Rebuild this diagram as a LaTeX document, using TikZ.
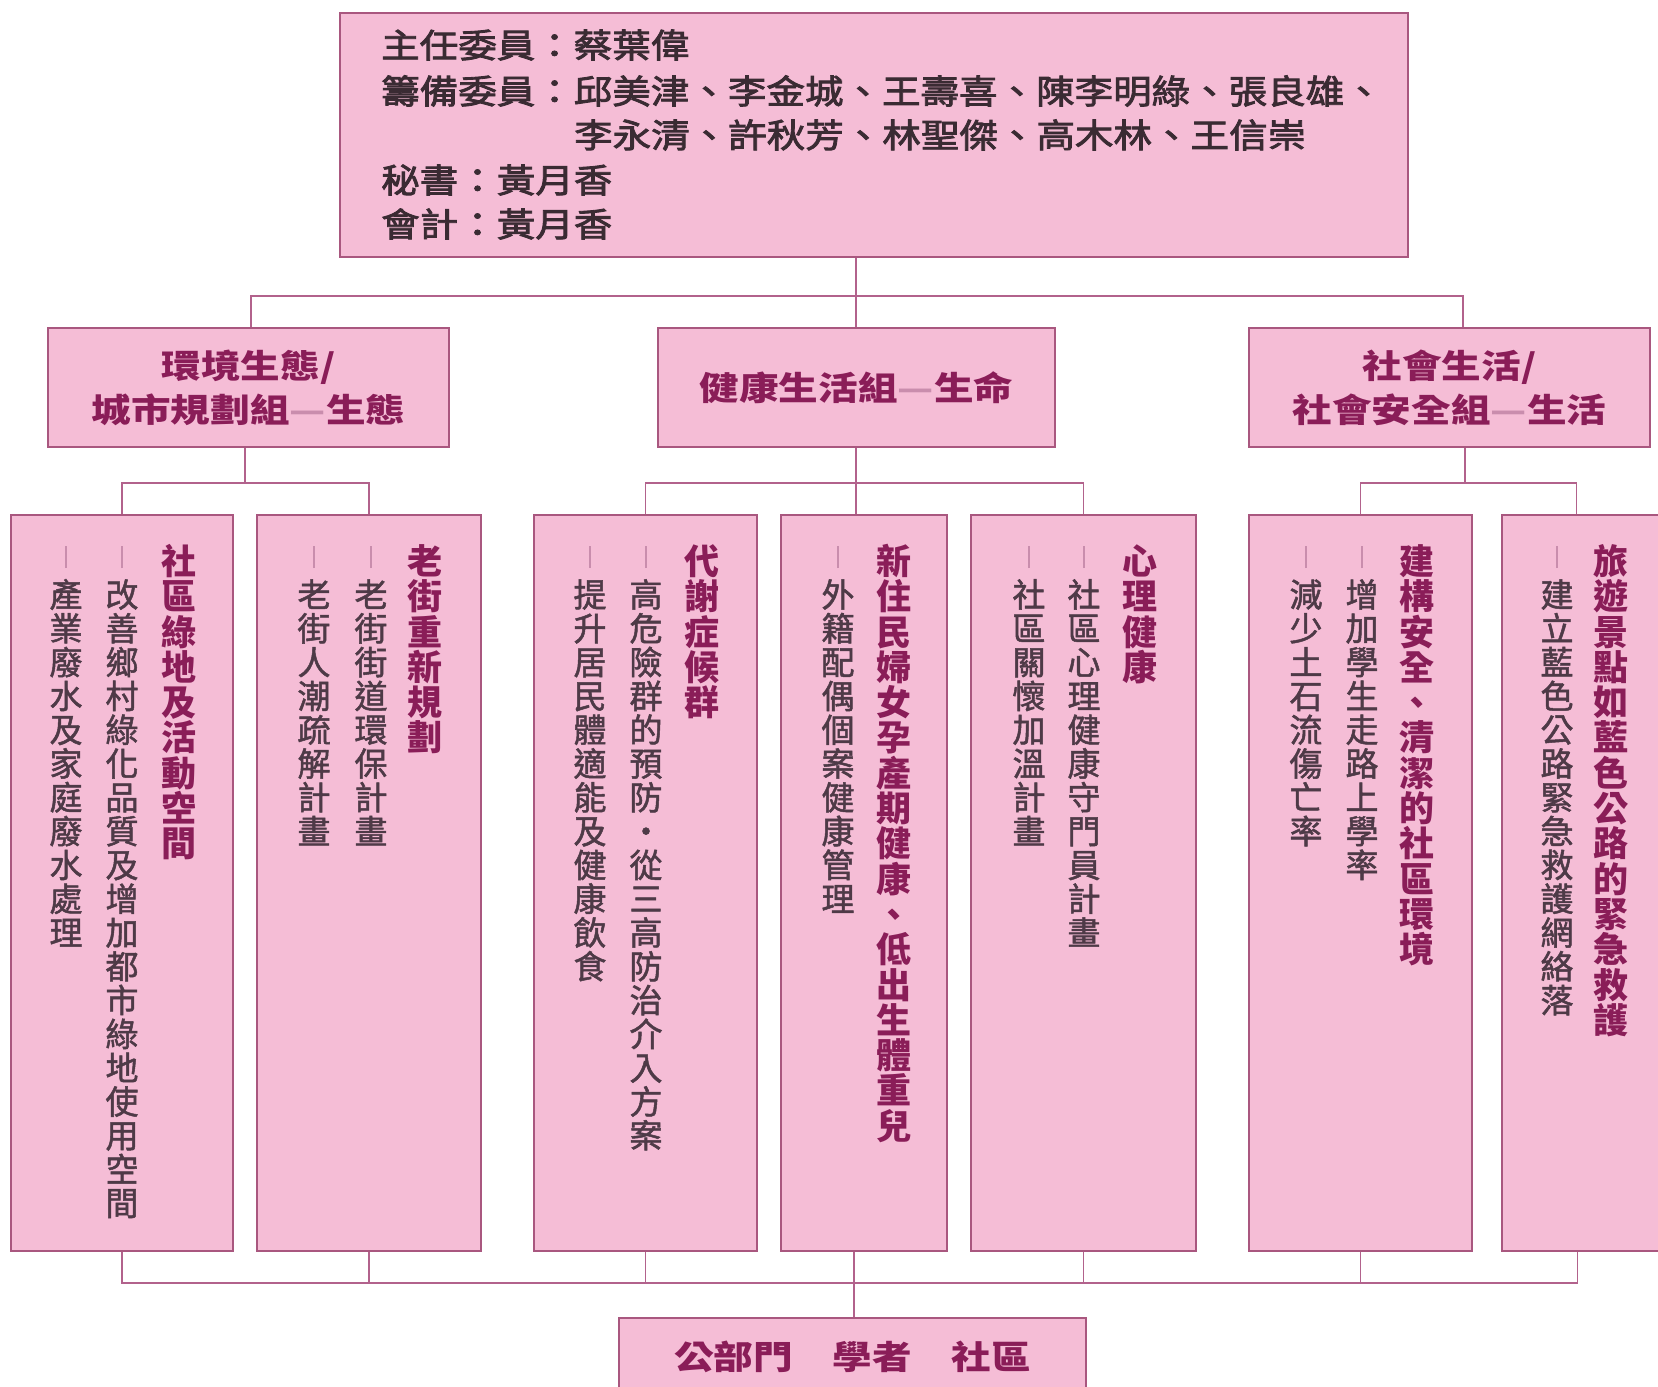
\documentclass[tikz,border=0pt]{standalone}
\usepackage{fontspec}
\setmainfont{Noto Sans CJK TC}
\newfontfamily\topfont[FakeStretch=1.15,FakeBold=2.5]{Noto Sans CJK TC}
\newfontfamily\grpfont[FakeStretch=1.2]{Noto Sans CJK TC}
\newfontfamily\colfont{Noto Sans CJK TC}
\newfontfamily\itemfont[FakeBold=1.5]{Noto Sans CJK TC}
\definecolor{boxfill}{HTML}{F5BDD6}
\definecolor{boxline}{HTML}{A9577F}
\definecolor{connc}{HTML}{B2628C}
\definecolor{titlec}{HTML}{8A1D58}
\definecolor{itemc}{HTML}{4E3A47}
\definecolor{topc}{HTML}{3A2B33}
\definecolor{dashc}{HTML}{C98DAD}
\newdimen\vpitch
\def\vcolEnd{}
\def\vcharsA#1{\ifx#1\vcolEnd\else\vslot{#1}\expandafter\vcharsA\fi}
\def\vslot#1{\hbox to 1.2em{\hss\vrule width 0pt height .8\vpitch depth .2\vpitch\relax\smash{#1}\hss}}
\def\dslot{\hbox to 1.2em{\hss\vrule width 0pt height .8\vpitch depth .2\vpitch\relax{\color{dashc}\vrule width 1.3pt height .8\vpitch depth -.15\vpitch}\hss}}
\newcommand\vtitle[1]{\vpitch=35.3pt\relax\vbox{\offinterlineskip\vcharsA#1\vcolEnd}}
\newcommand\vitem[1]{\vpitch=33.8pt\relax\vbox{\offinterlineskip\dslot\vcharsA#1\vcolEnd}}
\tikzset{
  box/.style={draw=boxline, fill=boxfill, line width=1.5pt, inner sep=0pt},
  conn/.style={draw=connc, line width=1.4pt},
  topline/.style={anchor=west, inner sep=0pt, text=topc, font={\topfont\fontsize{33.5pt}{40pt}\selectfont}},
  grptext/.style={align=center, text=titlec, font={\grpfont\bfseries\fontsize{33pt}{44pt}\selectfont}},
  coltitle/.style={anchor=north, inner sep=0pt, text=titlec, font={\colfont\bfseries\fontsize{35pt}{35pt}\selectfont}},
  colitem/.style={anchor=north, inner sep=0pt, text=itemc, font={\itemfont\fontsize{33pt}{34pt}\selectfont}}
}
\begin{document}
\begin{tikzpicture}[x=1pt,y=-1pt]
\fill[white] (0,0) rectangle (1658,1387);
\useasboundingbox (0,0) rectangle (1658,1387);

% top box
\node[box, minimum width=1068pt, minimum height=244pt] (top) at (874,135) {};
\node[topline] (tl1) at (381,45) {主任委員：蔡葉偉};
\node[topline] (tl2) at (381,91) {籌備委員：邱美津、李金城、王壽喜、陳李明綠、張良雄、};
\node[topline] (tl3) at (574,135) {李永清、許秋芳、林聖傑、高木林、王信崇};
\node[topline] (tl4) at (381,180) {秘書：黃月香};
\node[topline] (tl5) at (381,224) {會計：黃月香};

% group boxes
\node[box, grptext, minimum width=401pt, minimum height=119pt] (g1) at (248.5,387.5) {環境生態/\\城市規劃組{\color{dashc}—}生態};
\node[box, grptext, minimum width=397pt, minimum height=119pt] (g2) at (856.5,387.5) {健康生活組{\color{dashc}—}生命};
\node[box, grptext, minimum width=401pt, minimum height=119pt] (g3) at (1449.5,387.5) {社會生活/\\社會安全組{\color{dashc}—}生活};

% project boxes
\node[box, minimum width=222pt, minimum height=736pt] (b1) at (122,883) {};
\node[box, minimum width=224pt, minimum height=736pt] (b2) at (369,883) {};
\node[box, minimum width=223pt, minimum height=736pt] (b3) at (645.5,883) {};
\node[box, minimum width=166pt, minimum height=736pt] (b4) at (864,883) {};
\node[box, minimum width=225pt, minimum height=736pt] (b5) at (1083.5,883) {};
\node[box, minimum width=223pt, minimum height=736pt] (b6) at (1360.5,883) {};
\node[box, minimum width=223pt, minimum height=736pt] (b7) at (1613.5,883) {};

% columns
\node[coltitle] (t1) at (179,546) {\vtitle{社區綠地及活動空間}};
\node[colitem] (i1a) at (122,546) {\vitem{改善鄉村綠化品質及增加都市綠地使用空間}};
\node[colitem] (i1b) at (66,546) {\vitem{產業廢水及家庭廢水處理}};

\node[coltitle] (t2) at (425,546) {\vtitle{老街重新規劃}};
\node[colitem] (i2a) at (371,546) {\vitem{老街街道環保計畫}};
\node[colitem] (i2b) at (314,546) {\vitem{老街人潮疏解計畫}};

\node[coltitle] (t3) at (702,546) {\vtitle{代謝症候群}};
\node[colitem] (i3a) at (646,546) {\vitem{高危險群的預防・從三高防治介入方案}};
\node[colitem] (i3b) at (590,546) {\vitem{提升居民體適能及健康飲食}};

\node[coltitle] (t4) at (894,546) {\vtitle{新住民婦女孕產期健康、低出生體重兒}};
\node[colitem] (i4a) at (838,546) {\vitem{外籍配偶個案健康管理}};

\node[coltitle] (t5) at (1140,546) {\vtitle{心理健康}};
\node[colitem] (i5a) at (1084,546) {\vitem{社區心理健康守門員計畫}};
\node[colitem] (i5b) at (1029,546) {\vitem{社區關懷加溫計畫}};

\node[coltitle] (t6) at (1417,546) {\vtitle{建構安全、清潔的社區環境}};
\node[colitem] (i6a) at (1362,546) {\vitem{增加學生走路上學率}};
\node[colitem] (i6b) at (1306,546) {\vitem{減少土石流傷亡率}};

\node[coltitle] (t7) at (1611,546) {\vtitle{旅遊景點如藍色公路的緊急救護}};
\node[colitem] (i7a) at (1557,546) {\vitem{建立藍色公路緊急救護網絡落}};

% bottom box
\node[box, minimum width=467pt, minimum height=100pt] (bot) at (852.5,1368) {};
\node[inner sep=0pt, text=titlec, font={\grpfont\bfseries\fontsize{33pt}{40pt}\selectfont}] (bott) at (852.5,1357) {公部門　學者　社區};

% connectors
\coordinate (bus0) at (856,296);
\draw[conn] (top.south -| bus0) -- (g2.north -| bus0);
\draw[conn] ([xshift=2.5pt]g1.north) |- (bus0) -| ([xshift=13.5pt]g3.north);

\coordinate (jL) at (245,483);
\draw[conn] (g1.south -| jL) -- (jL);
\draw[conn] (b1.north) |- (jL) -| (b2.north);

\coordinate (jM) at (856,483);
\draw[conn] (g2.south -| jM) -- (b4.north -| jM);
\draw[conn] (b3.north) |- (jM) -| (b5.north);

\coordinate (jR) at (1465,483);
\draw[conn] (g3.south -| jR) -- (jR);
\draw[conn] (b6.north) |- (jR) -| ([xshift=75pt]b7.north west);

\coordinate (jB) at (854,1283);
\draw[conn] (b1.south) |- (jB) -| ([xshift=76pt]b7.south west);
\draw[conn] (b2.south) -- (b2.south |- jB);
\draw[conn] (b3.south) -- (b3.south |- jB);
\draw[conn] (b5.south) -- (b5.south |- jB);
\draw[conn] (b6.south) -- (b6.south |- jB);
\draw[conn] (b4.south -| jB) -- (bot.north -| jB);
\end{tikzpicture}
\end{document}
